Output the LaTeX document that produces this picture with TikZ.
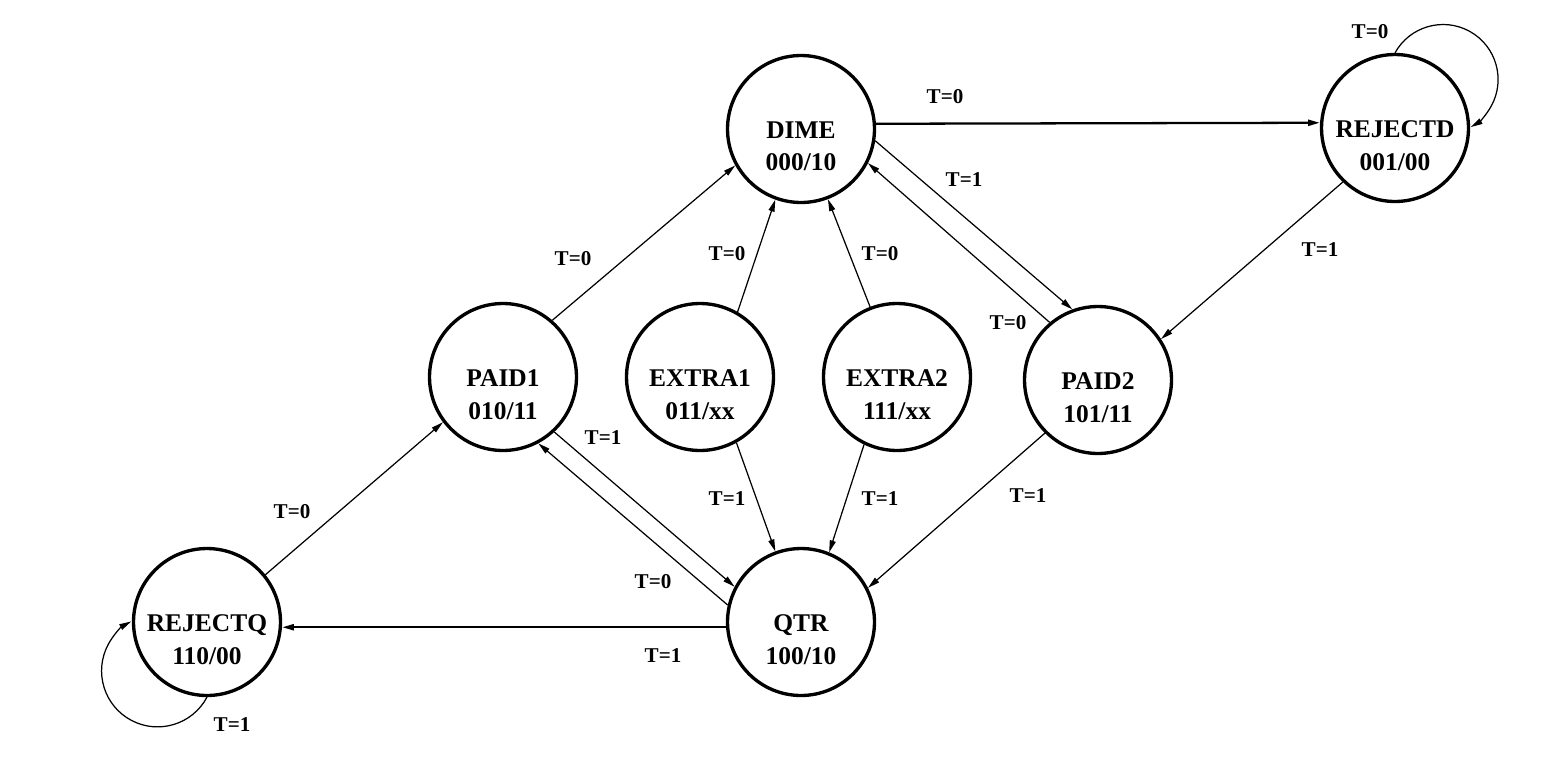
\documentclass[tikz,border=0pt]{standalone}
\usepackage{fontspec}
\setmainfont{Liberation Serif}
\usetikzlibrary{arrows.meta}
\begin{document}
\begin{tikzpicture}[x=0.02cm, y=-0.02cm, line join=round,
    state/.style={circle, draw, line width=1.9pt, minimum size=2.94cm, inner sep=0pt,
      label={[statetext]center:{#1}}},
    statetext/.style={align=center, yshift=-10pt, font=\fontsize{14.5}{18.4}\selectfont\bfseries},
    tr/.style={line width=0.7pt, -{Triangle[length=2.4mm,width=1.2mm]}},
    thicktr/.style={tr, line width=1.3pt},
    cond/.style={font=\fontsize{12}{13}\selectfont\bfseries, inner sep=1pt}]
      \useasboundingbox (0,0) rectangle (1549,778);
      \node[state={DIME\\000/10}]     (dime)   at (801,129) {};
      \node[state={REJECTD\\001/00}]  (rejd)   at (1395,128) {};
      \node[state={PAID1\\010/11}]    (paid1)  at (503,377) {};
      \node[state={EXTRA1\\011/xx}]   (extra1) at (700,377) {};
      \node[state={EXTRA2\\111/xx}]   (extra2) at (897,377) {};
      \node[state={PAID2\\101/11}]    (paid2)  at (1098,380) {};
      \node[state={REJECTQ\\110/00}]  (rejq)   at (207,622) {};
      \node[state={QTR\\100/10}]      (qtr)    at (801,622) {};
      \draw[thicktr] (dime.4) -- (rejd.176);
      \draw[tr] (rejd.north) arc[start angle=151, end angle=-60, radius=1.1cm];
      \draw[tr] (rejd.226) -- (paid2.33);
      \draw[tr] (dime.-9) -- (paid2.110);
      \draw[tr] (paid2.130) -- (dime.-27);
      \draw[tr] (paid1.49) -- (dime.209);
      \draw[tr] (extra1.60) -- (dime.250);
      \draw[tr] (extra2.111) -- (dime.291);
      \draw[tr] (extra1.-61) -- (qtr.110);
      \draw[tr] (extra2.-116) -- (qtr.68);
      \draw[tr] (paid2.-135) -- (qtr.27);
      \draw[tr] (paid1.-47) -- (qtr.152);
      \draw[tr] (qtr.167) -- (paid1.-62);
      \draw[thicktr] (qtr.184) -- (rejq.-4);
      \draw[tr] (rejq.39) -- (paid1.217);
      \draw[tr] (rejq.south) arc[start angle=-28, end angle=-242, radius=1.12cm];
      \node[cond] (c1)  at (945,97)   {T=0};
      \node[cond] (c2)  at (1370,32)  {T=0};
      \node[cond] (c3)  at (1320,250) {T=1};
      \node[cond] (c4)  at (964,180)  {T=1};
      \node[cond] (c5)  at (1008,323) {T=0};
      \node[cond] (c6)  at (573,259)  {T=0};
      \node[cond] (c7)  at (727,254)  {T=0};
      \node[cond] (c8)  at (880,254)  {T=0};
      \node[cond] (c9)  at (727,499)  {T=1};
      \node[cond] (c10) at (880,499)  {T=1};
      \node[cond] (c11) at (1028,496) {T=1};
      \node[cond] (c12) at (603,438)  {T=1};
      \node[cond] (c13) at (653,582)  {T=0};
      \node[cond] (c14) at (663,656)  {T=1};
      \node[cond] (c15) at (292,512)  {T=0};
      \node[cond] (c16) at (232,725)  {T=1};
    \end{tikzpicture}
\end{document}
